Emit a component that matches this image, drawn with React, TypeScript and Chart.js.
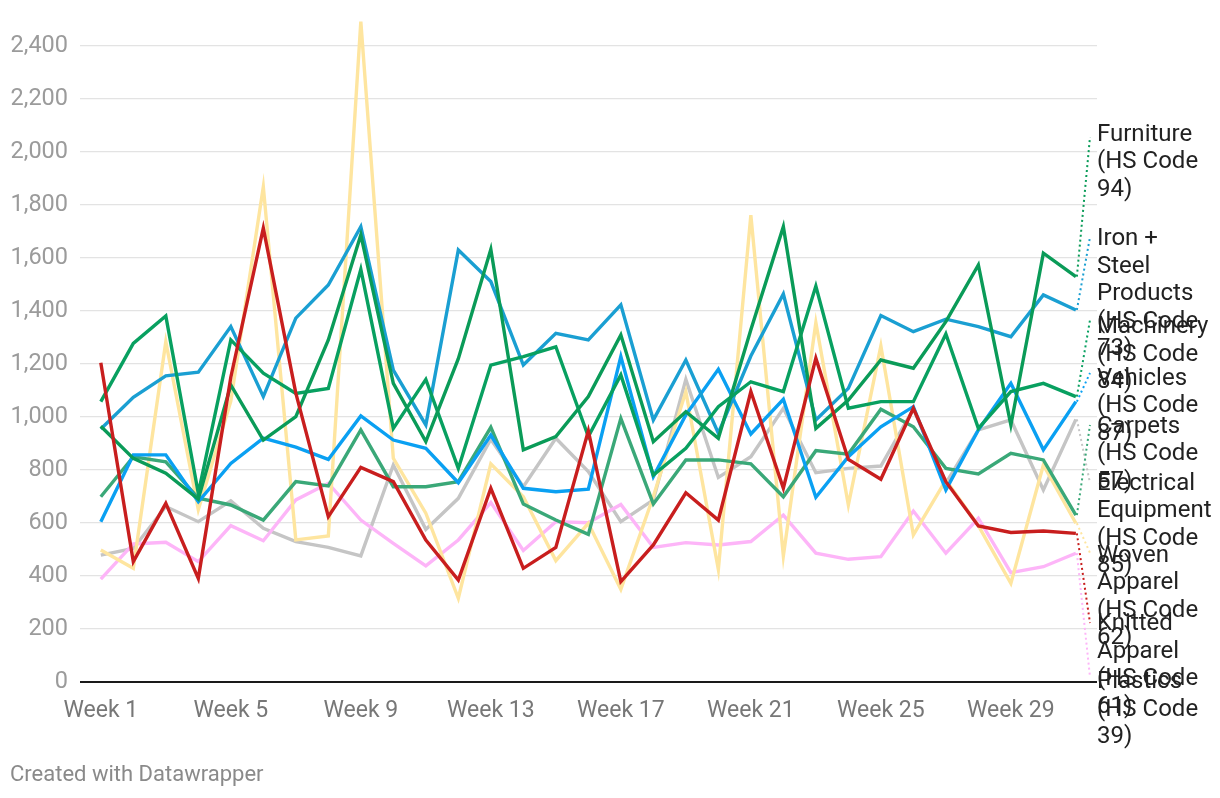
import { useEffect, useRef } from 'react';
import { Chart, registerables } from 'chart.js';

Chart.register(...registerables);

const weeks = [
  'Week 1', 'Week 2', 'Week 3', 'Week 4', 'Week 5', 'Week 6', 'Week 7', 'Week 8',
  'Week 9', 'Week 10', 'Week 11', 'Week 12', 'Week 13', 'Week 14', 'Week 15', 'Week 16',
  'Week 17', 'Week 18', 'Week 19', 'Week 20', 'Week 21', 'Week 22', 'Week 23', 'Week 24',
  'Week 25', 'Week 26', 'Week 27', 'Week 28', 'Week 29', 'Week 30', 'Week 31',
];
const tickWeeks = [1, 5, 9, 13, 17, 21, 25, 29];
const yTicks = [0, 200, 400, 600, 800, 1000, 1200, 1400, 1600, 1800, 2000, 2200, 2400];

const furniture = [965, 844, 788, 690, 1121, 913, 1001, 1291, 1687, 1127, 907, 1220, 1633, 876, 926, 1077, 1310, 907, 1020, 920, 1329, 1718, 957, 1064, 1215, 1184, 1360, 1574, 970, 1618, 1530];
const ironSteel = [955, 1074, 1155, 1169, 1341, 1077, 1373, 1498, 1718, 1177, 970, 1630, 1511, 1196, 1316, 1291, 1423, 989, 1215, 939, 1230, 1464, 989, 1108, 1383, 1322, 1369, 1341, 1303, 1461, 1404];
const machinery = [1058, 1278, 1381, 712, 1291, 1165, 1089, 1108, 1557, 957, 1142, 806, 1196, 1228, 1265, 926, 1159, 781, 882, 1039, 1133, 1096, 1494, 1033, 1058, 1058, 1313, 957, 1096, 1127, 1077];
const vehicles = [605, 857, 857, 680, 825, 920, 886, 840, 1004, 913, 882, 752, 932, 731, 718, 728, 1228, 775, 1008, 1180, 936, 1067, 697, 850, 963, 1039, 725, 951, 1127, 876, 1058];
const carpets = [479, 504, 662, 605, 684, 580, 530, 508, 476, 819, 576, 693, 916, 737, 920, 794, 605, 687, 1142, 772, 850, 1033, 790, 806, 815, 1030, 750, 951, 989, 725, 991];
const electrical = [699, 850, 831, 694, 668, 611, 756, 740, 951, 737, 737, 756, 961, 672, 611, 557, 995, 672, 838, 838, 823, 699, 873, 860, 1029, 963, 806, 785, 863, 838, 630];
const woven = [498, 429, 1284, 650, 1060, 1869, 536, 551, 2492, 844, 637, 316, 823, 699, 458, 599, 350, 700, 1096, 425, 1762, 476, 1356, 668, 1268, 555, 762, 590, 372, 819, 599];
const knitted = [1205, 454, 674, 391, 1150, 1713, 1090, 624, 810, 756, 536, 385, 731, 429, 508, 948, 379, 517, 714, 611, 1096, 731, 1222, 840, 765, 1033, 756, 589, 564, 570, 561];
const plastics = [388, 521, 527, 454, 590, 533, 687, 750, 611, 523, 438, 536, 677, 496, 605, 601, 670, 508, 526, 517, 530, 630, 486, 463, 473, 645, 486, 618, 413, 435, 486];

const seriesNames = [
  'Furniture (HS Code 94)',
  'Iron + Steel Products (HS Code 73)',
  'Machinery (HS Code 84)',
  'Vehicles (HS Code 87)',
  'Carpets (HS Code 57)',
  'Electrical Equipment (HS Code 85)',
  'Woven Apparel (HS Code 62)',
  'Knitted Apparel (HS Code 61)',
  'Plastics (HS Code 39)',
];
const seriesValues = [furniture, ironSteel, machinery, vehicles, carpets, electrical, woven, knitted, plastics];
const seriesColors = ['#0a9b58', '#1a9fd2', '#08a060', '#0aa0f2', '#c5c5c5', '#3aa878', '#fee59f', '#c81e1e', '#fdb5f8'];
const drawOrder = [1, 3, 2, 4, 8, 5, 6, 0, 7];

// label layout (wrapped lines, first-line centre, connector end)
const labelLines = [
  ['Furniture', '(HS Code', '94)'],
  ['Iron +', 'Steel', 'Products', '(HS Code', '73)'],
  ['Machinery', '(HS Code', '84)'],
  ['Vehicles', '(HS Code', '87)'],
  ['Carpets', '(HS Code', '57)'],
  ['Electrical', 'Equipment', '(HS Code', '85)'],
  ['Woven', 'Apparel', '(HS Code', '62)'],
  ['Knitted', 'Apparel', '(HS Code', '61)'],
  ['Plastics', '(HS Code', '39)'],
];
const labelTop = [134.5, 239, 327, 378.5, 426.5, 483.5, 555.5, 624, 682];
const connectorEnd = [137, 237, 320, 373, 483, 425, 553, 623, 677];

const FONT = 'Roboto, "Noto Sans", sans-serif';

const endLabels = {
  id: 'endLabels',
  afterDatasetsDraw(chart: any) {
    const ctx = chart.ctx;
    const area = chart.chartArea;
    chart.data.datasets.forEach((ds: any, i: number) => {
      const meta = chart.getDatasetMeta(i);
      const last = meta.data[meta.data.length - 1];
      ctx.save();
      ctx.setLineDash([2, 3]);
      ctx.lineWidth = 2;
      ctx.strokeStyle = ds.borderColor;
      ctx.beginPath();
      ctx.moveTo(last.x + 1, last.y);
      ctx.lineTo(area.right - 7, connectorEnd[i]);
      ctx.stroke();
      ctx.restore();
    });
    ctx.save();
    ctx.fillStyle = '#222';
    ctx.font = `24px ${FONT}`;
    ctx.textAlign = 'left';
    ctx.textBaseline = 'middle';
    labelLines.forEach((lines, i) => {
      lines.forEach((t, k) => {
        ctx.fillText(t, area.right, labelTop[i] + k * 27.5);
      });
    });
    ctx.fillStyle = '#8a8a8a';
    ctx.font = `22px ${FONT}`;
    ctx.fillText('Created with Datawrapper', 10, 775);
    ctx.restore();
  },
};

export default function App() {
  const ref = useRef<HTMLCanvasElement | null>(null);
  useEffect(() => {
    document.body.style.margin = '0';
    const canvas = ref.current;
    if (!canvas) return;
    Chart.defaults.font.family = FONT;
    const chart = new Chart(canvas, {
      type: 'line',
      data: {
        datasets: seriesNames.map((name, i) => ({
          label: name,
          data: weeks.map((w, j) => ({ x: j + 1, y: seriesValues[i][j] })),
          borderColor: seriesColors[i],
          backgroundColor: seriesColors[i],
          borderWidth: 3.4,
          pointRadius: 0,
          tension: 0,
          borderJoinStyle: 'miter',
          clip: false,
          order: drawOrder[i],
        })) as any,
      },
      options: {
        animation: false,
        responsive: false,
        devicePixelRatio: 1,
        layout: { padding: { left: 0, right: 123, top: 46, bottom: 0 } },
        plugins: { legend: { display: false }, tooltip: { enabled: false } },
        scales: {
          x: {
            type: 'linear',
            min: 0.36,
            max: 31.65,
            grid: { display: false },
            border: { display: false },
            afterBuildTicks: (scale: any) => {
              scale.ticks = tickWeeks.map((v) => ({ value: v }));
            },
            afterFit: (scale: any) => {
              scale.height = 116;
            },
            ticks: {
              autoSkip: false,
              maxRotation: 0,
              padding: 7,
              color: '#777',
              font: { size: 23 },
              callback: (v: any) => weeks[Number(v) - 1],
            },
          },
          y: {
            min: 0,
            max: 2400,
            afterBuildTicks: (scale: any) => {
              scale.ticks = yTicks.map((v) => ({ value: v }));
            },
            afterFit: (scale: any) => {
              scale.width = 80;
            },
            border: { display: false },
            grid: {
              drawTicks: false,
              color: (c: any) => (c.tick && c.tick.value === 0 ? '#1a1a1a' : '#e3e3e3'),
              lineWidth: (c: any) => (c.tick && c.tick.value === 0 ? 2 : 1.2),
            },
            ticks: {
              padding: 12,
              color: '#9b9b9b',
              font: { size: 23.5 },
              callback: (v: any) => Number(v).toLocaleString('en-US'),
            },
          },
        },
      },
      plugins: [endLabels],
    });
    return () => chart.destroy();
  }, []);
  return (
    <div style={{ width: 1220, height: 798, position: 'relative' }}>
      <canvas ref={ref} width={1220} height={798} style={{ width: 1220, height: 798, display: 'block' }} />
    </div>
  );
}
